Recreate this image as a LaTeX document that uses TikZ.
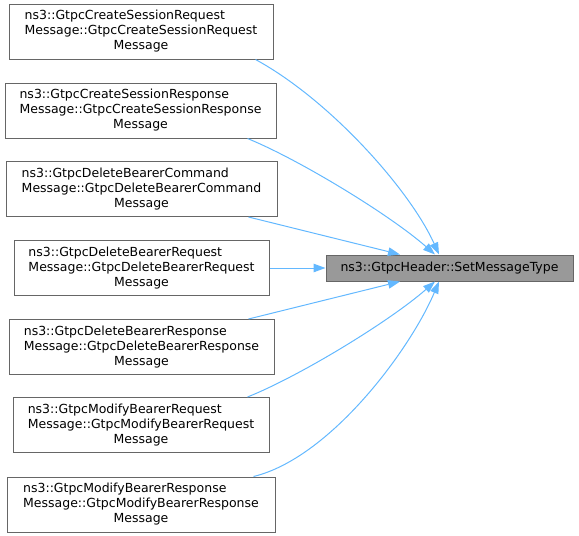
\documentclass[tikz,border=0pt]{standalone}
\usepackage{fontspec}
\setmainfont{DejaVu Sans}
\usetikzlibrary{arrows.meta}
\definecolor{edgeblue}{HTML}{63B8FF}
\definecolor{boxgray}{HTML}{666666}
\definecolor{targetfill}{HTML}{999999}
\newlength\lblwidth
\newcommand{\twolbl}[2]{\settowidth\lblwidth{#2}\makebox[\lblwidth][l]{#1}\\#2\\Message}
\tikzset{
  caller/.style={draw=boxgray, line width=1pt, fill=white, rectangle, inner sep=0pt,
    minimum height=55pt, align=center, font=\fontsize{12.5}{15}\selectfont},
  target/.style={draw=boxgray, line width=1pt, fill=targetfill, rectangle, inner sep=0pt,
    minimum height=26pt, minimum width=247pt, font=\fontsize{12.5}{15}\selectfont},
  calledge/.style={draw=edgeblue, line width=1pt, -{Triangle[length=12pt,width=8.5pt]}}
}
\begin{document}
\begin{tikzpicture}[x=1pt,y=-1pt]
\useasboundingbox (0,0) rectangle (579,536);
\node[target] (t) at (449.5,268) {ns3::GtpcHeader::SetMessageType};
\node[caller, minimum width=264pt] (n1) at (141,31.5) {\twolbl{ns3::GtpcCreateSessionRequest}{Message::GtpcCreateSessionRequest}};
\node[caller, minimum width=271pt] (n2) at (140.5,110.5) {\twolbl{ns3::GtpcCreateSessionResponse}{Message::GtpcCreateSessionResponse}};
\node[caller, minimum width=271pt] (n3) at (141.5,189) {\twolbl{ns3::GtpcDeleteBearerCommand}{Message::GtpcDeleteBearerCommand}};
\node[caller, minimum width=255pt] (n4) at (141.5,268) {\twolbl{ns3::GtpcDeleteBearerRequest}{Message::GtpcDeleteBearerRequest}};
\node[caller, minimum width=265pt] (n5) at (141.5,347) {\twolbl{ns3::GtpcDeleteBearerResponse}{Message::GtpcDeleteBearerResponse}};
\node[caller, minimum width=256pt] (n6) at (141,425) {\twolbl{ns3::GtpcModifyBearerRequest}{Message::GtpcModifyBearerRequest}};
\node[caller, minimum width=268pt] (n7) at (141,504.5) {\twolbl{ns3::GtpcModifyBearerResponse}{Message::GtpcModifyBearerResponse}};
\draw[calledge] (n1.south east) ++(-18,0) .. controls (330,100) and (410,190) .. (t.north west -| 439,0);
\draw[calledge] (n2.south east) ++(-29,0) .. controls (300,160) and (390,215) .. (t.north west -| 435,0);
\draw[calledge] (n3.south east) ++(-29,0) -- (t.north west -| 400,0);
\draw[calledge] (n4.east) -- (t.west);
\draw[calledge] (n5.north east) ++(-26,0) -- (t.south west -| 400,0);
\draw[calledge] (n6.north east) ++(-22,0) .. controls (300,376) and (390,321) .. (t.south west -| 435,0);
\draw[calledge] (n7.north east) ++(-22,0) .. controls (330,458) and (410,350) .. (t.south west -| 439,0);
\end{tikzpicture}
\end{document}
